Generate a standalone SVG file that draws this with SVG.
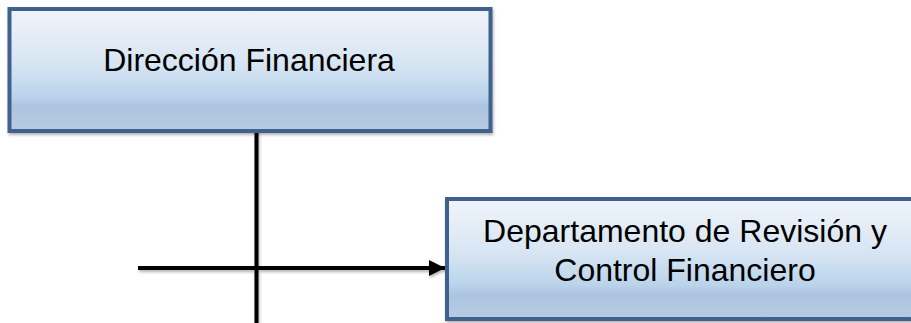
<svg xmlns="http://www.w3.org/2000/svg" width="911" height="323" viewBox="0 0 911 323">
<style>
.box{fill:url(#g);stroke:#3f608e;stroke-width:4;filter:url(#sh)}
.t{font-family:"Liberation Sans",Arial,sans-serif;font-size:32px;fill:#000;text-anchor:middle}
.ln{stroke:#000;stroke-width:4;fill:none}
</style>
<defs>
<linearGradient id="g" x1="0" y1="0" x2="0" y2="1">
<stop offset="0" stop-color="#f0f4fa"/>
<stop offset="0.45" stop-color="#d7e5f3"/>
<stop offset="0.72" stop-color="#b9d3ea"/>
<stop offset="0.8" stop-color="#adc3df"/>
<stop offset="1" stop-color="#b7cbe3"/>
</linearGradient>
<filter id="sh" x="-5%" y="-5%" width="110%" height="115%">
<feDropShadow dx="1" dy="2" stdDeviation="1.5" flood-color="#000" flood-opacity="0.3"/>
</filter>
<filter id="lsh" filterUnits="userSpaceOnUse" x="0" y="0" width="911" height="323">
<feDropShadow dx="1" dy="2" stdDeviation="1.5" flood-color="#000" flood-opacity="0.3"/>
</filter>
<marker id="ar" markerWidth="4" markerHeight="4" refX="4" refY="2" orient="auto" markerUnits="strokeWidth">
<path d="M0,0 L4,2 L0,4 Z" fill="#000"/>
</marker>
</defs>
<g id="connectors" filter="url(#lsh)">
<line class="ln" x1="256.5" y1="131" x2="256.5" y2="323"/>
<line class="ln" x1="138" y1="268" x2="445" y2="268" marker-end="url(#ar)"/>
</g>
<g id="node-direccion">
<rect class="box" x="9.5" y="9" width="481" height="122"/>
<text class="t" x="249" y="71">Dirección Financiera</text>
</g>
<g id="node-departamento">
<rect class="box" x="447" y="199" width="480" height="120"/>
<text class="t" x="685" y="242">Departamento de Revisión y</text>
<text class="t" x="685" y="281">Control Financiero</text>
</g>
</svg>
